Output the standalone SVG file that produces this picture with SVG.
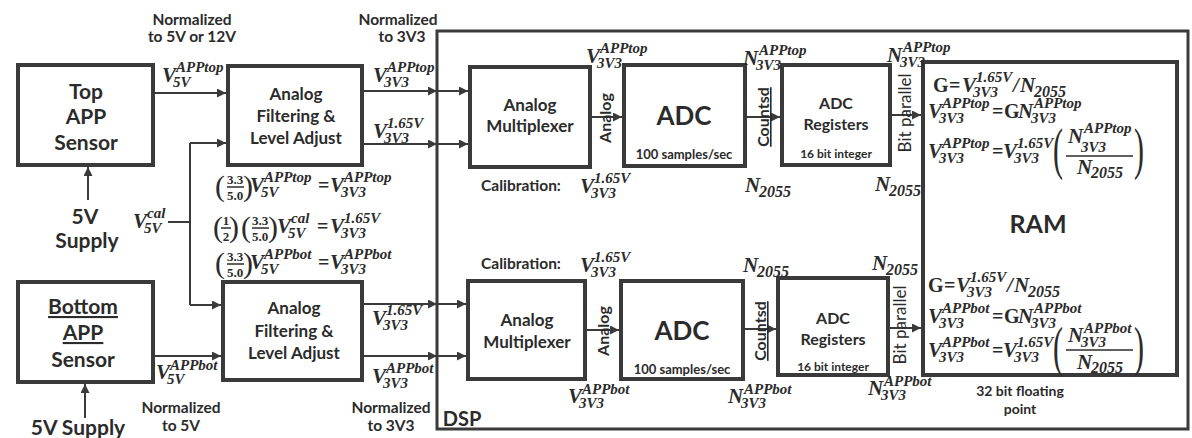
<svg xmlns="http://www.w3.org/2000/svg" width="1192" height="438" viewBox="0 0 1192 438">
<defs>
<marker id="ah" viewBox="0 0 10 10" refX="10" refY="5" markerWidth="10" markerHeight="9" markerUnits="userSpaceOnUse" orient="auto"><path d="M0,0 L10,5 L0,10 z" fill="#3a3a3a"/></marker>
</defs>
<style>
.box{fill:#fff;stroke:#3a3a3a;stroke-width:4}
.dsp{fill:none;stroke:#3a3a3a;stroke-width:3}
.ln{fill:none;stroke:#3a3a3a;stroke-width:2}
.fl{fill:none;stroke:#2b2b2b;stroke-width:1.5}
.ar{fill:none;stroke:#3a3a3a;stroke-width:2;marker-end:url(#ah)}
text{fill:#2b2b2b}
.t{font-family:Lato,"Liberation Sans",sans-serif;font-weight:bold;text-anchor:middle}
.s22{font-size:21px}.s18{font-size:17px}.s16{font-size:16px}.s15{font-size:15.5px}.s12{font-size:12px}
.big{font-size:26px}
.rot{font-family:Lato,"Liberation Sans",sans-serif;font-size:16px;font-weight:bold;text-anchor:middle}
.rotn{font-family:Lato,"Liberation Sans",sans-serif;font-size:17px;text-anchor:middle}
.wv{text-decoration:underline wavy #888}
.mv{font-family:"Liberation Serif",serif;font-style:italic;font-weight:bold;font-size:21px}
.ms{font-family:"Liberation Serif",serif;font-style:italic;font-weight:bold;font-size:15px}
.ms2{font-family:"Liberation Serif",serif;font-style:italic;font-weight:bold;font-size:16px}
.mr{font-family:"Liberation Serif",serif;font-weight:bold;font-size:20px}
.mf{font-family:"Liberation Serif",serif;font-weight:bold;font-size:13px;text-anchor:middle}
.mp{font-family:"Liberation Serif",serif;font-size:30px}
</style>
<rect width="1192" height="438" fill="#fff"/>

<g id="dsp"><rect class="dsp" x="437" y="31" width="751" height="398"/><text class="t" x="462" y="426" style="font-size:20px">DSP</text></g>

<g id="connectors">
<line class="ar" x1="88" y1="200" x2="88" y2="167"/>
<line class="ar" x1="85" y1="418" x2="85" y2="384"/>
<line class="ar" x1="153" y1="93" x2="226" y2="93"/>
<line class="ar" x1="153" y1="356" x2="221" y2="356"/>
<polyline class="ln" points="168,222 190,222"/>
<line class="ln" x1="190" y1="143" x2="190" y2="305"/>
<line class="ar" x1="190" y1="143" x2="226" y2="143"/>
<line class="ar" x1="190" y1="305" x2="221" y2="305"/>
<line class="ar" x1="364" y1="91" x2="437" y2="91"/>
<line class="ar" x1="437" y1="91" x2="468" y2="91"/>
<line class="ar" x1="364" y1="144" x2="437" y2="144"/>
<line class="ar" x1="437" y1="144" x2="468" y2="144"/>
<line class="ar" x1="364" y1="304" x2="437" y2="304"/>
<line class="ar" x1="437" y1="304" x2="466" y2="304"/>
<line class="ar" x1="364" y1="356" x2="437" y2="356"/>
<line class="ar" x1="437" y1="356" x2="466" y2="356"/>
<line class="ar" x1="592" y1="117" x2="622" y2="117"/>
<line class="ar" x1="587" y1="330" x2="619" y2="330"/>
<line class="ar" x1="747" y1="117" x2="780" y2="117"/>
<line class="ar" x1="745" y1="329" x2="776" y2="329"/>
<line class="ar" x1="892" y1="115" x2="921" y2="115"/>
<line class="ar" x1="890" y1="328" x2="921" y2="328"/>
</g>

<g id="top-sensor"><rect class="box" x="18" y="65" width="135" height="100"/>
<text class="t s22" x="86" y="99">Top</text><text class="t s22" x="86" y="124">APP</text><text class="t s22" x="86" y="150">Sensor</text></g>
<g id="bottom-sensor"><rect class="box" x="18" y="282" width="135" height="100"/>
<text class="t s22 wv" x="83" y="314">Bottom</text><text class="t s22 wv" x="83" y="340">APP</text><text class="t s22" x="83" y="367">Sensor</text></g>
<g id="supply-top"><text class="t s22" x="85" y="224">5V</text><text class="t s22" x="87" y="248">Supply</text></g>
<g id="supply-bot"><text class="t s22" x="78" y="435">5V Supply</text></g>

<g id="filter-top"><rect class="box" x="228" y="66" width="134" height="99"/>
<text class="t s18" x="296" y="100">Analog</text><text class="t s18" x="296" y="122">Filtering &amp;</text><text class="t s18" x="296" y="144">Level Adjust</text></g>
<g id="filter-bot"><rect class="box" x="223" y="282" width="139" height="98"/>
<text class="t s18" x="294" y="314">Analog</text><text class="t s18" x="294" y="337">Filtering &amp;</text><text class="t s18" x="294" y="359">Level Adjust</text></g>

<g id="mux-top"><rect class="box" x="470" y="67" width="120" height="100"/>
<text class="t s18" x="530" y="111">Analog</text><text class="t s18" x="530" y="132">Multiplexer</text></g>
<g id="mux-bot"><rect class="box" x="468" y="281" width="117" height="98"/>
<text class="t s18" x="527" y="326">Analog</text><text class="t s18" x="527" y="348">Multiplexer</text></g>

<g id="adc-top"><rect class="box" x="624" y="65" width="121" height="101"/>
<text class="t big" x="684" y="125">ADC</text><text class="t" x="684" y="159" style="font-size:13px">100 samples/sec</text></g>
<g id="adc-bot"><rect class="box" x="621" y="281" width="122" height="98"/>
<text class="t big" x="682" y="340">ADC</text><text class="t" x="682" y="374" style="font-size:13px">100 samples/sec</text></g>

<g id="reg-top"><rect class="box" x="782" y="65" width="108" height="100"/>
<text class="t s16" x="836" y="109">ADC</text><text class="t s16" x="836" y="130">Registers</text><text class="t s12" x="836" y="158">16 bit integer</text></g>
<g id="reg-bot"><rect class="box" x="778" y="278" width="110" height="97"/>
<text class="t s16" x="833" y="324">ADC</text><text class="t s16" x="833" y="345">Registers</text><text class="t s12" x="833" y="371">16 bit integer</text></g>

<g id="ram"><rect class="box" x="923" y="62" width="254" height="313"/>
<text class="t" x="1038" y="233" style="font-size:25px">RAM</text>
<text class="t" x="1020" y="396" style="font-size:14px">32 bit floating</text><text class="t" x="1020" y="414" style="font-size:14px">point</text>
<g id="ram-eq-top">
<text class="mr" x="933" y="92">G</text><text class="mr" x="949" y="92">=</text>
<text class="mv" x="962" y="92">V</text><text class="ms" x="976" y="82">1.65V</text><text class="ms" x="973" y="97">3V3</text>
<text class="mv" x="1013" y="92">/</text><text class="mv" x="1020" y="92">N</text><text class="ms2" x="1034" y="97">2055</text>
<text class="mv" x="928" y="118">V</text><text class="ms" x="942" y="108">APPtop</text><text class="ms" x="939" y="123">3V3</text>
<text class="mr" x="992" y="118">=</text><text class="mr" x="1004" y="118">G</text>
<text class="mv" x="1018" y="118">N</text><text class="ms" x="1034" y="108">APPtop</text><text class="ms" x="1031" y="123">3V3</text>
<text class="mv" x="928" y="158">V</text><text class="ms" x="942" y="148">APPtop</text><text class="ms" x="939" y="163">3V3</text>
<text class="mr" x="992" y="158">=</text>
<text class="mv" x="1003" y="158">V</text><text class="ms" x="1017" y="148">1.65V</text><text class="ms" x="1014" y="163">3V3</text>
<text class="mp" transform="translate(1053,168) scale(1,1.9)">(</text>
<text class="mv" x="1068" y="143">N</text><text class="ms" x="1084" y="133">APPtop</text><text class="ms" x="1081" y="152">3V3</text>
<line class="fl" x1="1066" y1="156" x2="1133" y2="156"/>
<text class="mv" x="1077" y="174">N</text><text class="ms2" x="1091" y="178">2055</text>
<text class="mp" transform="translate(1134,168) scale(1,1.9)">)</text>
</g>
<g id="ram-eq-bot">
<text class="mr" x="928" y="292">G</text><text class="mr" x="944" y="292">=</text>
<text class="mv" x="956" y="292">V</text><text class="ms" x="970" y="282">1.65V</text><text class="ms" x="967" y="297">3V3</text>
<text class="mv" x="1007" y="292">/</text><text class="mv" x="1014" y="292">N</text><text class="ms2" x="1028" y="297">2055</text>
<text class="mv" x="928" y="323">V</text><text class="ms" x="942" y="313">APPbot</text><text class="ms" x="939" y="328">3V3</text>
<text class="mr" x="992" y="323">=</text><text class="mr" x="1004" y="323">G</text>
<text class="mv" x="1018" y="323">N</text><text class="ms" x="1034" y="313">APPbot</text><text class="ms" x="1031" y="328">3V3</text>
<text class="mv" x="928" y="357">V</text><text class="ms" x="942" y="347">APPbot</text><text class="ms" x="939" y="362">3V3</text>
<text class="mr" x="992" y="357">=</text>
<text class="mv" x="1003" y="357">V</text><text class="ms" x="1017" y="347">1.65V</text><text class="ms" x="1014" y="362">3V3</text>
<text class="mp" transform="translate(1053,365) scale(1,1.85)">(</text>
<text class="mv" x="1068" y="342">N</text><text class="ms" x="1084" y="333">APPbot</text><text class="ms" x="1081" y="347">3V3</text>
<line class="fl" x1="1066" y1="350" x2="1133" y2="350"/>
<text class="mv" x="1077" y="369">N</text><text class="ms2" x="1091" y="373">2055</text>
<text class="mp" transform="translate(1134,365) scale(1,1.85)">)</text>
</g>
</g>

<g id="labels">
<text class="t s15" x="192" y="25">Normalized</text><text class="t s15" x="192" y="42">to 5V or 12V</text>
<text class="t s15" x="398" y="25">Normalized</text><text class="t s15" x="402" y="42">to 3V3</text>
<text class="t s15" x="181" y="413">Normalized</text><text class="t s15" x="181" y="431">to 5V</text>
<text class="t s15" x="391" y="413">Normalized</text><text class="t s15" x="391" y="431">to 3V3</text>
<text class="t s15" x="521" y="191">Calibration:</text>
<text class="t s15" x="521" y="269">Calibration:</text>

<text class="mv" x="162" y="82">V</text><text class="ms" x="176" y="72">APPtop</text><text class="ms" x="173" y="87">5V</text>
<text class="mv" x="373" y="82">V</text><text class="ms" x="387" y="72">APPtop</text><text class="ms" x="384" y="87">3V3</text>
<text class="mv" x="373" y="138">V</text><text class="ms" x="387" y="128">1.65V</text><text class="ms" x="384" y="143">3V3</text>
<text class="mv" x="133" y="228">V</text><text class="ms" x="147" y="218">cal</text><text class="ms" x="144" y="233">5V</text>
<text class="mv" x="156" y="379">V</text><text class="ms" x="170" y="370">APPbot</text><text class="ms" x="167" y="384">5V</text>
<text class="mv" x="372" y="325">V</text><text class="ms" x="386" y="315">1.65V</text><text class="ms" x="383" y="330">3V3</text>
<text class="mv" x="372" y="383">V</text><text class="ms" x="386" y="373">APPbot</text><text class="ms" x="383" y="388">3V3</text>

<text class="mv" x="586" y="63">V</text><text class="ms" x="600" y="53">APPtop</text><text class="ms" x="597" y="68">3V3</text>
<text class="mv" x="580" y="193">V</text><text class="ms" x="594" y="183">1.65V</text><text class="ms" x="591" y="198">3V3</text>
<text class="mv" x="743" y="65">N</text><text class="ms" x="759" y="55">APPtop</text><text class="ms" x="756" y="70">3V3</text>
<text class="mv" x="745" y="192">N</text><text class="ms2" x="759" y="197">2055</text>
<text class="mv" x="887" y="62">N</text><text class="ms" x="903" y="52">APPtop</text><text class="ms" x="900" y="67">3V3</text>
<text class="mv" x="875" y="191">N</text><text class="ms2" x="889" y="196">2055</text>
<text class="mv" x="580" y="272">V</text><text class="ms" x="594" y="262">1.65V</text><text class="ms" x="591" y="277">3V3</text>
<text class="mv" x="743" y="272">N</text><text class="ms2" x="757" y="277">2055</text>
<text class="mv" x="568" y="403">V</text><text class="ms" x="582" y="394">APPbot</text><text class="ms" x="579" y="408">3V3</text>
<text class="mv" x="728" y="403">N</text><text class="ms" x="744" y="394">APPbot</text><text class="ms" x="741" y="408">3V3</text>
<text class="mv" x="872" y="270">N</text><text class="ms2" x="886" y="275">2055</text>
<text class="mv" x="868" y="395">N</text><text class="ms" x="884" y="386">APPbot</text><text class="ms" x="881" y="400">3V3</text>

<text class="rot" transform="translate(611,118) rotate(-90)">Analog</text>
<text class="rot" transform="translate(609,331) rotate(-90)">Analog</text>
<text class="rot wv" transform="translate(769,117) rotate(-90)">Countsd</text>
<text class="rot wv" transform="translate(766,331) rotate(-90)">Countsd</text>
<text class="rotn" transform="translate(911,113) rotate(-90)">Bit parallel</text>
<text class="rotn" transform="translate(906,325) rotate(-90)">Bit parallel</text>
</g>

<g id="equations">
<text class="mp" x="215" y="196">(</text><text class="mf" x="235" y="184">3.3</text><line class="fl" x1="227" y1="187" x2="244" y2="187"/><text class="mf" x="235" y="200">5.0</text><text class="mp" x="243" y="196">)</text>
<text class="mv" x="250" y="192">V</text><text class="ms" x="264" y="182">APPtop</text><text class="ms" x="261" y="197">5V</text>
<text class="mr" x="318" y="192">=</text>
<text class="mv" x="330" y="192">V</text><text class="ms" x="344" y="182">APPtop</text><text class="ms" x="341" y="197">3V3</text>

<text class="mp" x="213" y="237">(</text><text class="mf" x="226" y="225">1</text><line class="fl" x1="221" y1="228" x2="231" y2="228"/><text class="mf" x="226" y="241">2</text><text class="mp" x="229" y="237">)</text>
<text class="mp" x="241" y="237">(</text><text class="mf" x="260" y="225">3.3</text><line class="fl" x1="252" y1="228" x2="269" y2="228"/><text class="mf" x="260" y="241">5.0</text><text class="mp" x="268" y="237">)</text>
<text class="mv" x="277" y="233">V</text><text class="ms" x="291" y="223">cal</text><text class="ms" x="288" y="238">5V</text>
<text class="mr" x="317" y="233">=</text>
<text class="mv" x="330" y="233">V</text><text class="ms" x="344" y="223">1.65V</text><text class="ms" x="341" y="238">3V3</text>

<text class="mp" x="215" y="273">(</text><text class="mf" x="235" y="261">3.3</text><line class="fl" x1="227" y1="264" x2="244" y2="264"/><text class="mf" x="235" y="277">5.0</text><text class="mp" x="243" y="273">)</text>
<text class="mv" x="250" y="269">V</text><text class="ms" x="264" y="259">APPbot</text><text class="ms" x="261" y="274">5V</text>
<text class="mr" x="318" y="269">=</text>
<text class="mv" x="330" y="269">V</text><text class="ms" x="344" y="259">APPbot</text><text class="ms" x="341" y="274">3V3</text>
</g>
</svg>
